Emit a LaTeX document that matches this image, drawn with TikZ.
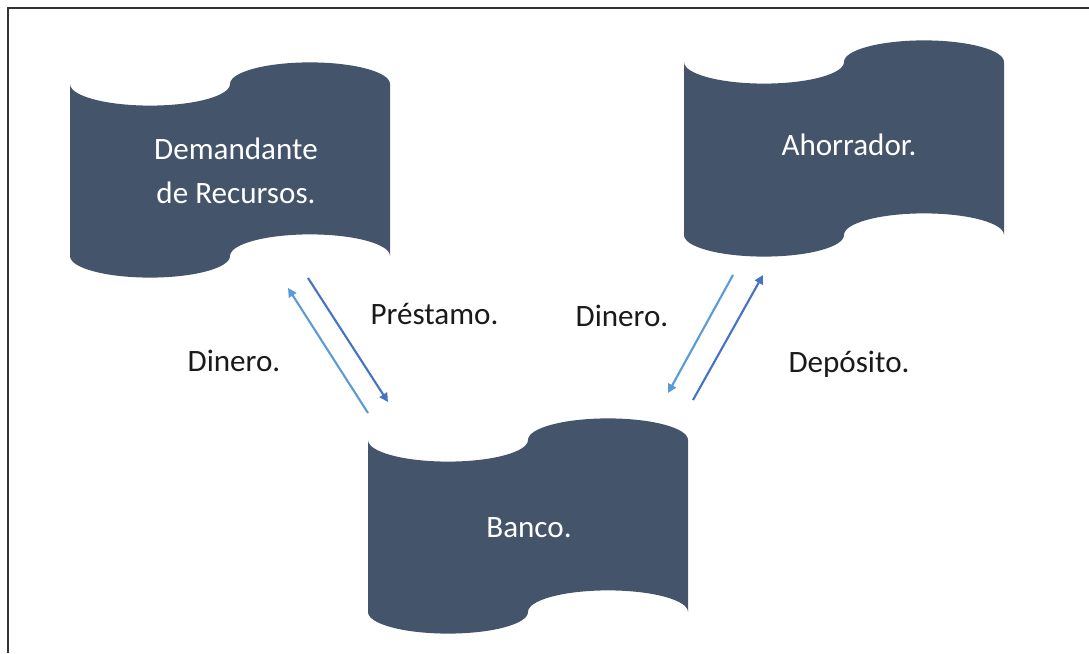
\documentclass[tikz,border=0pt]{standalone}
\usepackage{fontspec}
\setmainfont{Carlito}
\usetikzlibrary{arrows.meta}
\definecolor{tapefill}{HTML}{44546A}
\definecolor{darkarrow}{HTML}{4472C4}
\definecolor{lightarrow}{HTML}{5B9BD5}
\definecolor{labeltext}{HTML}{1A1A1A}
\newcommand\tapeshape[3]{%
  \fill[tapefill] (#1,#2)
    arc[start angle=180, end angle=360, x radius=80, y radius=21.6]
    arc[start angle=180, end angle=0, x radius=80, y radius=21.6]
    -- ({#1+320},#3)
    arc[start angle=0, end angle=180, x radius=80, y radius=21.6]
    arc[start angle=0, end angle=-180, x radius=80, y radius=21.6]
    -- cycle;}
\tikzset{
  boxtext/.style={text=white, font=\fontsize{17.7}{25}\selectfont, align=center, inner sep=0pt},
  flowlabel/.style={text=labeltext, font=\fontsize{17.7}{25}\selectfont, inner sep=0pt, anchor=base},
  darkflow/.style={draw=darkarrow, line width=1.2pt, -{Triangle[length=5pt,width=5pt]}},
  lightflow/.style={draw=lightarrow, line width=1.2pt, -{Triangle[length=5pt,width=5pt]}},
}
\begin{document}
\begin{tikzpicture}[x=0.02cm, y=0.02cm]
\useasboundingbox (0,0) rectangle (1089,653);
% frame (only top and left edges visible)
\draw[line width=1pt, black!80] (8,0) -- (8,645) -- (1089,645);
% shapes
\tapeshape{70}{569}{397}
\tapeshape{684}{591}{418}
\tapeshape{368}{213}{41}
% texts in shapes
\node[boxtext] (demandante) at (236,482) {Demandante\\de Recursos.};
\node[boxtext, anchor=base] (ahorrador) at (849,497) {Ahorrador.};
\node[boxtext, anchor=base] (banco) at (529,115) {Banco.};
% labels
\node[flowlabel] (prestamo) at (434.5,328) {Préstamo.};
\node[flowlabel] (dineroL) at (234,281) {Dinero.};
\node[flowlabel] (dineroR) at (622,326) {Dinero.};
\node[flowlabel] (deposito) at (849,280) {Depósito.};
% arrow endpoints
\coordinate (p1) at (308,375);
\coordinate (p2) at (388,251);
\coordinate (d1) at (368,240);
\coordinate (d2) at (288,365);
\coordinate (r1) at (733,378);
\coordinate (r2) at (668,260);
\coordinate (s1) at (693,253);
\coordinate (s2) at (763,378);
\draw[darkflow] (p1) -- (p2);
\draw[lightflow] (d1) -- (d2);
\draw[lightflow] (r1) -- (r2);
\draw[darkflow] (s1) -- (s2);
\end{tikzpicture}
\end{document}
